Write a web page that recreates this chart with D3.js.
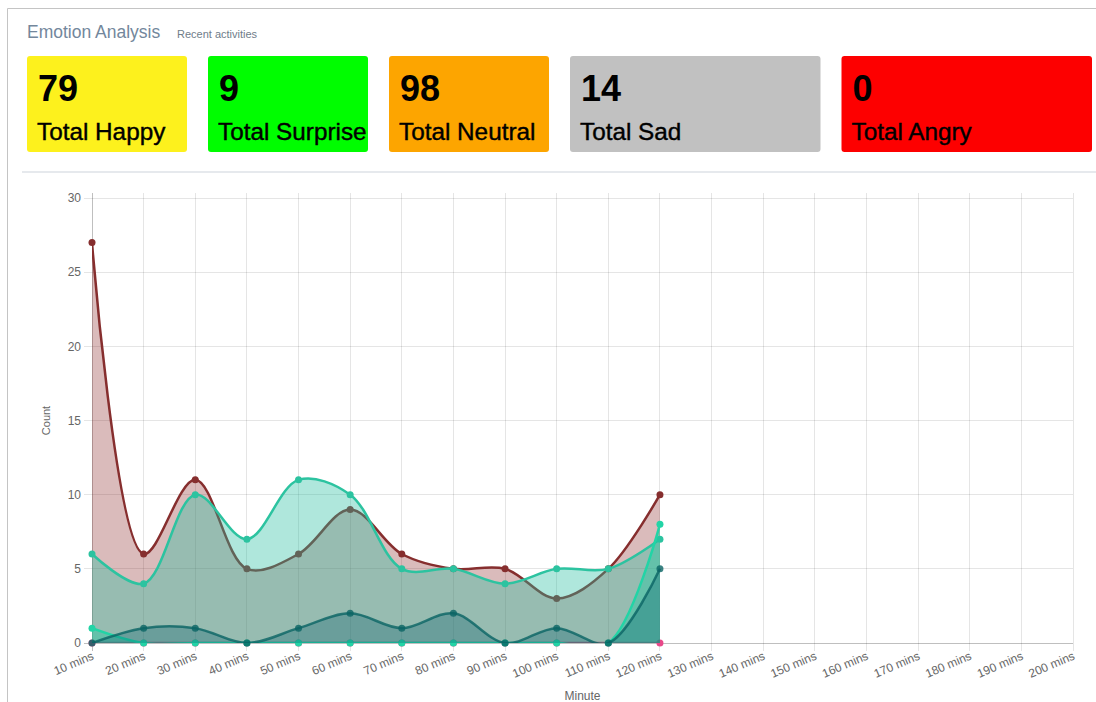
<!DOCTYPE html>
<html lang="en">
<head>
    <meta charset="UTF-8">
    <title>Emotion Analysis</title>
    <script src="https://d3js.org/d3.v7.min.js"></script>
    <style>
        body {
            margin: 0;
            background-color: #fff;
            font-family: "Liberation Sans", Arial, Helvetica, sans-serif;
        }
        svg {
            display: block;
        }
        .grid line {
            stroke: rgba(0,0,0,0.1);
            shape-rendering: crispEdges;
        }
        .tick-label {
            fill: #666;
            font-size: 12px;
        }
    </style>
</head>
<body>
    <svg id="chart" width="1096" height="702"></svg>

    <script>
        // Values
        const minutes = ["10 mins", "20 mins", "30 mins", "40 mins", "50 mins", "60 mins", "70 mins",
            "80 mins", "90 mins", "100 mins", "110 mins", "120 mins", "130 mins", "140 mins",
            "150 mins", "160 mins", "170 mins", "180 mins", "190 mins", "200 mins"];
        const yTicks = [0, 5, 10, 15, 20, 25, 30];

        const neutral = [27, 6, 11, 5, 6, 9, 6, 5, 5, 3, 5, 10];
        const happy = [6, 4, 10, 7, 11, 10, 5, 5, 4, 5, 5, 7];
        const surprise = [1, 0, 0, 0, 0, 0, 0, 0, 0, 0, 0, 8];
        const sad = [0, 1, 1, 0, 1, 2, 1, 2, 0, 1, 0, 5];
        const angry = [0, 0, 0, 0, 0, 0, 0, 0, 0, 0, 0, 0];

        const cardLabels = ["Total Happy", "Total Surprise", "Total Neutral", "Total Sad", "Total Angry"];
        const cardTotals = [79, 9, 98, 14, 0];
        const cardColors = ["#fdf11d", "#00fd00", "#fda500", "#c1c1c1", "#fd0000"];

        const svg = d3.select("#chart");

        // panel frame + header
        svg.append("path")
            .attr("d", "M7.5,702 V8.5 H1096")
            .attr("fill", "none")
            .attr("stroke", "#c4c4c4");

        svg.append("text")
            .attr("x", 27).attr("y", 38)
            .attr("fill", "#73879c")
            .style("font-size", "17.5px")
            .text("Emotion Analysis");
        svg.append("text")
            .attr("x", 177).attr("y", 38)
            .attr("fill", "#6f7d8a")
            .style("font-size", "11px")
            .text("Recent activities");

        // summary cards, bootstrap-like grid
        const cardSpans = [2, 2, 2, 3, 3];
        const colPitch = 90.5, gutter = 21, rowStart = 16.5;
        let col = 0;
        const cardPos = cardSpans.map(s => {
            const p = { x: rowStart + col * colPitch + gutter / 2, w: s * colPitch - gutter };
            col += s;
            return p;
        });

        const cards = svg.selectAll(".card").data(cardLabels).enter()
            .append("g")
            .attr("class", "card")
            .attr("transform", (d, i) => `translate(${cardPos[i].x},56)`);

        cards.append("rect")
            .attr("width", (d, i) => cardPos[i].w)
            .attr("height", 96)
            .attr("rx", 3)
            .attr("fill", (d, i) => cardColors[i]);
        cards.append("text")
            .attr("x", 11).attr("y", 45)
            .style("font-size", "36px")
            .style("font-weight", "bold")
            .attr("fill", "#000")
            .text((d, i) => cardTotals[i]);
        cards.append("text")
            .attr("x", 10).attr("y", 84)
            .style("font-size", "24.3px")
            .attr("fill", "#000")
            .attr("stroke", "#000")
            .attr("stroke-width", 0.4)
            .text(d => d);

        svg.append("line")
            .attr("x1", 22).attr("x2", 1096)
            .attr("y1", 172).attr("y2", 172)
            .attr("stroke", "#e6e9ed")
            .attr("stroke-width", 2);

        // line chart
        const plotLeft = 92, plotRight = 1073, plotTop = 198, plotBottom = 643;
        const x = d3.scalePoint().domain(minutes).range([plotLeft, plotRight]);
        const y = d3.scaleLinear().domain([0, 30]).range([plotBottom, plotTop]);

        const grid = svg.append("g").attr("class", "grid");
        grid.selectAll(".v").data(minutes).enter()
            .append("line")
            .attr("x1", d => x(d)).attr("x2", d => x(d))
            .attr("y1", plotTop - 5).attr("y2", plotBottom + 8)
            .style("stroke", (d, i) => i === 0 ? "rgba(0,0,0,0.25)" : null);
        grid.selectAll(".h").data(yTicks).enter()
            .append("line")
            .attr("x1", plotLeft - 8).attr("x2", plotRight)
            .attr("y1", d => y(d)).attr("y2", d => y(d))
            .style("stroke", d => d === 0 ? "rgba(0,0,0,0.25)" : null);

        svg.append("g").selectAll("text").data(yTicks).enter()
            .append("text")
            .attr("class", "tick-label")
            .attr("x", plotLeft - 11)
            .attr("y", d => y(d))
            .attr("dy", "0.35em")
            .attr("text-anchor", "end")
            .text(d => d);

        svg.append("g").selectAll("text").data(minutes).enter()
            .append("text")
            .attr("class", "tick-label")
            .attr("transform", d => `translate(${x(d) + 1},${plotBottom + 12}) rotate(-23)`)
            .attr("dy", "0.35em")
            .attr("text-anchor", "end")
            .text(d => d);

        svg.append("text")
            .attr("class", "tick-label")
            .attr("transform", `translate(50,${(plotTop + plotBottom) / 2}) rotate(-90)`)
            .attr("text-anchor", "middle")
            .style("font-size", "11px")
            .text("Count");

        svg.append("text")
            .attr("class", "tick-label")
            .attr("x", (plotLeft + plotRight) / 2)
            .attr("y", 700)
            .attr("text-anchor", "middle")
            .text("Minute");

        svg.append("clipPath").attr("id", "plot")
            .append("rect")
            .attr("x", plotLeft).attr("y", plotTop - 2)
            .attr("width", plotRight - plotLeft).attr("height", plotBottom - plotTop + 2);

        // drawn bottom to top
        const series = [
            { values: angry, line: "#e8488a", fill: "rgba(232,72,138,0.3)" },
            { values: neutral, line: "#862e2e", fill: "rgba(140,45,45,0.32)" },
            { values: happy, line: "#2cc3a0", fill: "rgba(38,190,160,0.37)" },
            { values: surprise, line: "#22d4a6", fill: "rgba(30,200,160,0.42)" },
            { values: sad, line: "rgba(10,100,100,0.8)", fill: "rgba(3,88,106,0.3)" }
        ];

        const curve = d3.curveCatmullRom.alpha(0.5);
        const area = d3.area()
            .x((d, i) => x(minutes[i]))
            .y0(y(0))
            .y1(d => y(d))
            .curve(curve);
        const line = d3.line()
            .x((d, i) => x(minutes[i]))
            .y(d => y(d))
            .curve(curve);

        series.forEach(s => {
            const g = svg.append("g");
            g.append("path")
                .attr("clip-path", "url(#plot)")
                .attr("d", area(s.values))
                .attr("fill", s.fill);
            g.append("path")
                .attr("clip-path", "url(#plot)")
                .attr("d", line(s.values))
                .attr("fill", "none")
                .attr("stroke", s.line)
                .attr("stroke-width", 2.5);
            g.selectAll("circle").data(s.values).enter()
                .append("circle")
                .attr("cx", (d, i) => x(minutes[i]))
                .attr("cy", d => y(d))
                .attr("r", 3.5)
                .attr("fill", s.line);
        });
    </script>
</body>
</html>
